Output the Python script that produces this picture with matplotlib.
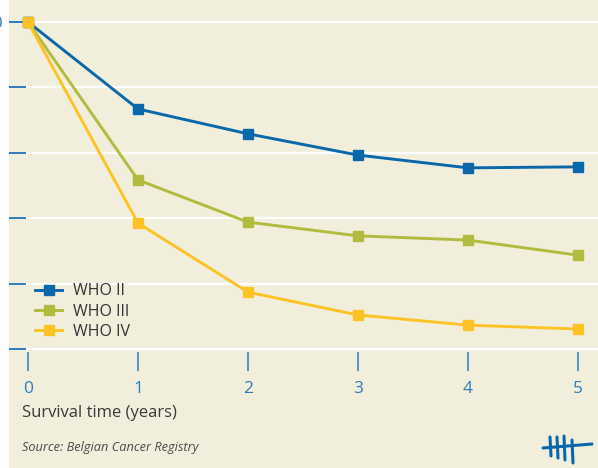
import matplotlib
matplotlib.use("Agg")
from matplotlib import pyplot as plt
from matplotlib.patches import Rectangle
from matplotlib.lines import Line2D

# survival data (percent)
years = [0, 1, 2, 3, 4, 5]
who2 = [100, 73.4, 65.8, 59.3, 55.4, 55.7]
who3 = [100, 51.7, 38.8, 34.6, 33.3, 28.7]
who4 = [100, 38.5, 17.4, 10.4, 7.3, 6.1]
series_names = ["WHO II", "WHO III", "WHO IV"]
yticks = [0, 20, 40, 60, 80, 100]
ytick_labels = ["", "", "", "", "", "100"]

bg = "#f1efdc"
blue = "#0a68aa"
green = "#b3bb3e"
yellow = "#fdc325"
tickblue = "#2d7cb9"

plt.rcParams["font.family"] = ["Open Sans", "DejaVu Sans"]

W, H = 598, 468
fig = plt.figure(figsize=(W / 100, H / 100), dpi=100, facecolor=bg)

# white strip at left edge
fig.add_artist(Rectangle((0, 0), 9 / W, 1, transform=fig.transFigure,
                         facecolor="white", edgecolor="none", zorder=-1))

bottom_px = 352
ax = fig.add_axes([9 / W, (H - bottom_px) / H, (W - 9) / W, bottom_px / H])
ax.set_facecolor(bg)

px_per_x = 110.0
px_per_y = 327 / 100.0
ax.set_xlim(-(28 - 9) / px_per_x, (W - 28) / px_per_x)
ax.set_ylim(-(bottom_px - 349) / px_per_y, 100 + 22 / px_per_y)

for s in ax.spines.values():
    s.set_visible(False)

ax.set_yticks(yticks)
ax.set_yticklabels(ytick_labels)
ax.set_xticks(years)
ax.grid(axis="y", color="white", linewidth=1.6)
ax.set_axisbelow(True)
ax.tick_params(axis="y", direction="in", length=12.5, width=1.4, color=tickblue,
               labelcolor=tickblue, labelsize=12, pad=4)
ax.tick_params(axis="x", direction="out", length=14, width=1.1, color=tickblue,
               labelcolor=tickblue, labelsize=12.5, pad=7)

for vals, col, name in zip([who2, who3, who4], [blue, green, yellow], series_names):
    ax.plot(years, vals, color=col, linewidth=2.1, marker="s", markersize=7.4,
            label=name, clip_on=False, zorder=3)

leg = ax.legend(loc="upper left", bbox_to_anchor=(20 / (W - 9), 1 - 277 / bottom_px),
                frameon=False, fontsize=11.5, handlelength=1.65, handletextpad=0.7,
                labelspacing=0.27, borderaxespad=0, labelcolor="#333333")

fig.text(22 / W, 1 - 413 / H, "Survival time (years)", fontsize=12,
         color="#3a3a3a", va="center", ha="left")
fig.text(22 / W, 1 - 448 / H, "Source: Belgian Cancer Registry", fontsize=9.2,
         color="#4a4a4a", style="italic", va="center", ha="left")

# simple tally logo
def figline(xs, ys, lw):
    fig.add_artist(Line2D([x / W for x in xs], [1 - y / H for y in ys],
                          transform=fig.transFigure, color=blue, linewidth=lw,
                          solid_capstyle="round"))

figline([543, 592], [448, 444], 2.2)
for x0, y0, y1 in [(550, 437, 456), (557, 437, 458), (564, 436, 460), (572, 440, 463)]:
    figline([x0, x0 + 1], [y0, y1], 2.2)

fig.savefig("out.png", dpi=100, facecolor=bg)
